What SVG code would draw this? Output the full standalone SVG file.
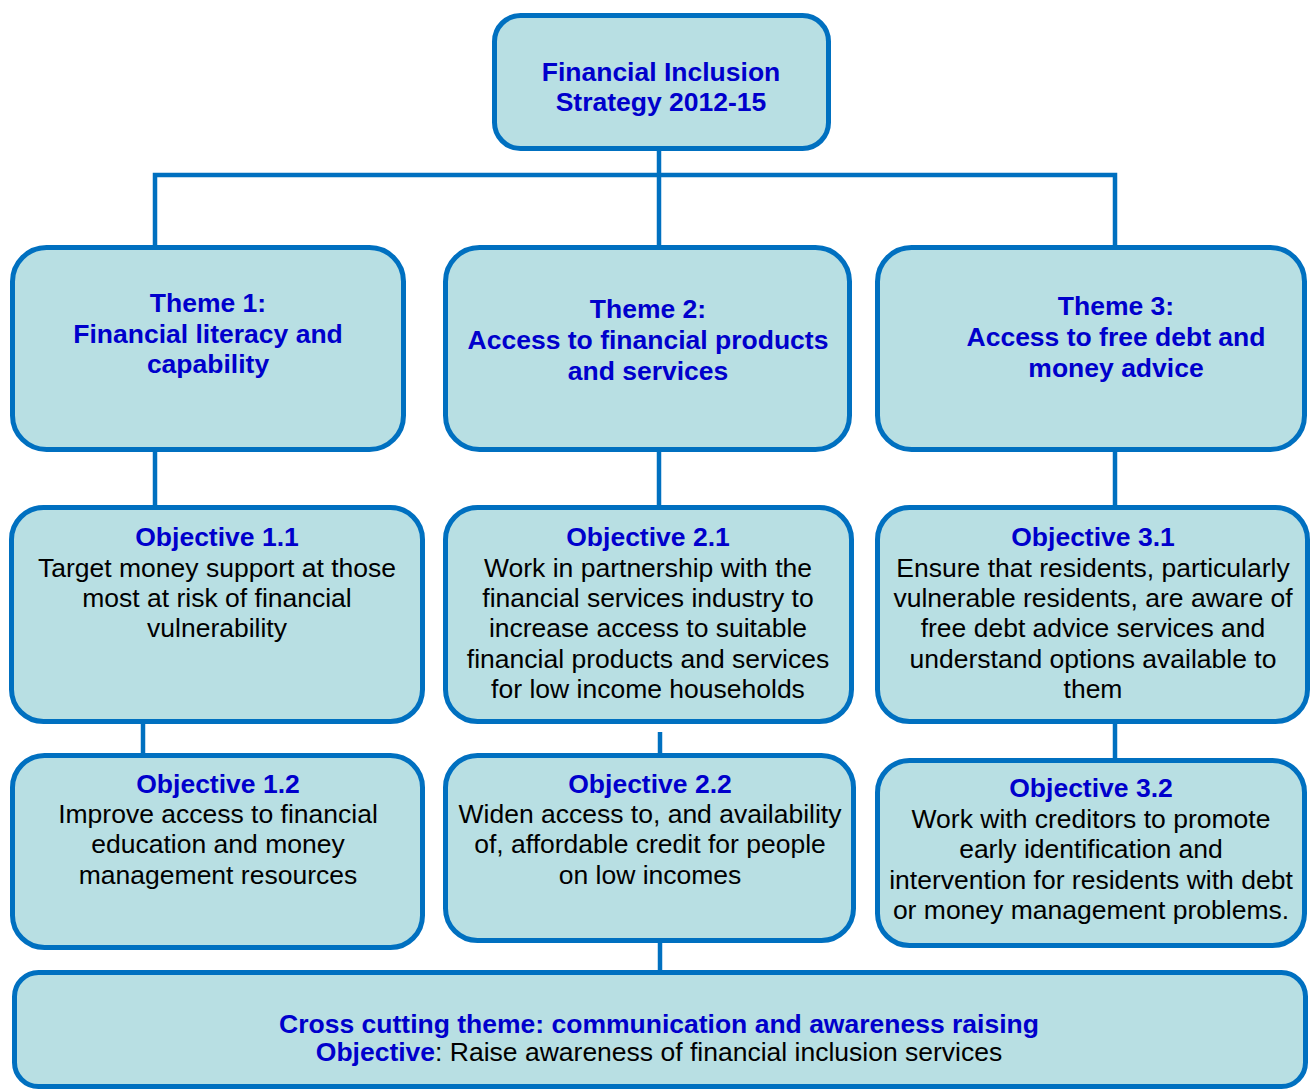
<svg xmlns="http://www.w3.org/2000/svg" width="1312" height="1091" viewBox="0 0 1312 1091">
<style>
.box{fill:#B8DFE3;stroke:#0070C0;stroke-width:5}
.con{fill:none;stroke:#0070C0;stroke-width:4.5}
text{font-family:"Liberation Sans",Arial,sans-serif;font-size:26.5px;text-anchor:middle}
.t{fill:#0000CC;font-weight:bold}
.b{fill:#000000}
</style>
<rect width="1312" height="1091" fill="#FFFFFF"/>
<g id="connectors">
<path class="con" d="M659 151 V247"/>
<path class="con" d="M155 247 V175 H1115 V247"/>
<path class="con" d="M155 452 V507"/>
<path class="con" d="M659 452 V507"/>
<path class="con" d="M1115 452 V507"/>
<path class="con" d="M143 724 V758"/>
<path class="con" d="M660 732 V755"/>
<path class="con" d="M1115 724 V760"/>
<path class="con" d="M660 943 V972"/>
</g>
<g id="strategy">
<rect class="box" x="494.5" y="15.5" width="334" height="133" rx="26"/>
<text class="t" x="661" y="81">Financial Inclusion</text>
<text class="t" x="661" y="111">Strategy 2012-15</text>
</g>
<g id="theme1">
<rect class="box" x="12.5" y="247.5" width="391" height="202" rx="34"/>
<text class="t" x="208" y="312">Theme 1:</text>
<text class="t" x="208" y="343">Financial literacy and</text>
<text class="t" x="208" y="373">capability</text>
</g>
<g id="theme2">
<rect class="box" x="445.5" y="247.5" width="404" height="202" rx="34"/>
<text class="t" x="648" y="318">Theme 2:</text>
<text class="t" x="648" y="349">Access to financial products</text>
<text class="t" x="648" y="380">and services</text>
</g>
<g id="theme3">
<rect class="box" x="877.5" y="247.5" width="427" height="202" rx="34"/>
<text class="t" x="1116" y="315">Theme 3:</text>
<text class="t" x="1116" y="346">Access to free debt and</text>
<text class="t" x="1116" y="377">money advice</text>
</g>
<g id="obj11">
<rect class="box" x="11.5" y="507.5" width="411" height="214" rx="32"/>
<text class="t" x="217" y="546">Objective 1.1</text>
<text class="b" x="217" y="577">Target money support at those</text>
<text class="b" x="217" y="607">most at risk of financial</text>
<text class="b" x="217" y="637">vulnerability</text>
</g>
<g id="obj21">
<rect class="box" x="445.5" y="507.5" width="406" height="214" rx="32"/>
<text class="t" x="648" y="546">Objective 2.1</text>
<text class="b" x="648" y="577">Work in partnership with the</text>
<text class="b" x="648" y="607">financial services industry to</text>
<text class="b" x="648" y="637">increase access to suitable</text>
<text class="b" x="648" y="668">financial products and services</text>
<text class="b" x="648" y="698">for low income households</text>
</g>
<g id="obj31">
<rect class="box" x="877.5" y="507.5" width="430" height="214" rx="32"/>
<text class="t" x="1093" y="546">Objective 3.1</text>
<text class="b" x="1093" y="577">Ensure that residents, particularly</text>
<text class="b" x="1093" y="607">vulnerable residents, are aware of</text>
<text class="b" x="1093" y="637">free debt advice services and</text>
<text class="b" x="1093" y="668">understand options available to</text>
<text class="b" x="1093" y="698">them</text>
</g>
<g id="obj12">
<rect class="box" x="12.5" y="755.5" width="410" height="192" rx="32"/>
<text class="t" x="218" y="793">Objective 1.2</text>
<text class="b" x="218" y="823">Improve access to financial</text>
<text class="b" x="218" y="853">education and money</text>
<text class="b" x="218" y="884">management resources</text>
</g>
<g id="obj22">
<rect class="box" x="445.5" y="755.5" width="408" height="185" rx="32"/>
<text class="t" x="650" y="793">Objective 2.2</text>
<text class="b" x="650" y="823">Widen access to, and availability</text>
<text class="b" x="650" y="853">of, affordable credit for people</text>
<text class="b" x="650" y="884">on low incomes</text>
</g>
<g id="obj32">
<rect class="box" x="877.5" y="760.5" width="427" height="185" rx="32"/>
<text class="t" x="1091" y="797">Objective 3.2</text>
<text class="b" x="1091" y="828">Work with creditors to promote</text>
<text class="b" x="1091" y="858">early identification and</text>
<text class="b" x="1091" y="889">intervention for residents with debt</text>
<text class="b" x="1091" y="919">or money management problems.</text>
</g>
<g id="crosscutting">
<rect class="box" x="14.5" y="972.5" width="1291" height="114" rx="24"/>
<text class="t" x="659" y="1033">Cross cutting theme: communication and awareness raising</text>
<text class="b" x="659" y="1061"><tspan class="t">Objective</tspan>: Raise awareness of financial inclusion services</text>
</g>
</svg>
